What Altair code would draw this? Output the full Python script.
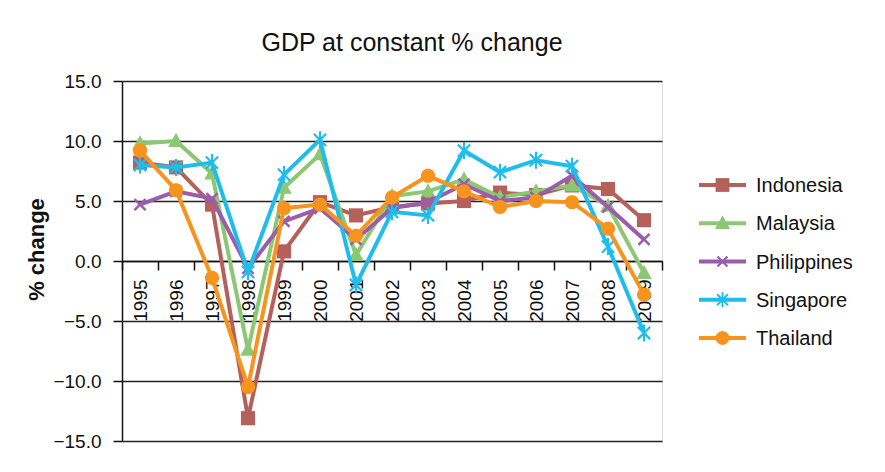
import math
import altair as alt
import pandas as pd

# ---------------- data ----------------
years = ["1995", "1996", "1997", "1998", "1999", "2000", "2001", "2002",
         "2003", "2004", "2005", "2006", "2007", "2008", "2009"]
countries = ["Indonesia", "Malaysia", "Philippines", "Singapore", "Thailand"]
indonesia = [8.2, 7.8, 4.7, -13.1, 0.8, 4.9, 3.8, 4.5, 4.8, 5.0, 5.7, 5.5, 6.3, 6.0, 3.4]
malaysia = [9.8, 10.0, 7.3, -7.4, 6.1, 8.9, 0.5, 5.4, 5.8, 6.8, 5.3, 5.8, 6.3, 4.6, -1.0]
philippines = [4.7, 5.8, 5.2, -0.6, 3.3, 4.4, 1.8, 4.4, 4.9, 6.4, 5.0, 5.3, 7.1, 4.5, 1.8]
singapore = [8.0, 7.8, 8.2, -0.9, 7.2, 10.1, -2.0, 4.1, 3.8, 9.2, 7.4, 8.4, 7.9, 1.2, -6.0]
thailand = [9.2, 5.9, -1.4, -10.5, 4.4, 4.7, 2.1, 5.3, 7.1, 5.8, 4.5, 5.0, 4.9, 2.7, -2.8]
y_ticks = [-15, -10, -5, 0, 5, 10, 15]

series = [indonesia, malaysia, philippines, singapore, thailand]
df = pd.DataFrame(
    [{"country": c, "year": y, "value": v}
     for c, vals in zip(countries, series) for y, v in zip(years, vals)]
)
legend_df = pd.DataFrame({"country": countries})

# ---------------- styles ----------------
colors = ["#B5605A", "#8CC873", "#9B5CAB", "#1FBDEB", "#F7941D"]
FONT = "Liberation Sans"


def poly(pts):
    area = sum(pts[i][0] * pts[(i + 1) % len(pts)][1] - pts[(i + 1) % len(pts)][0] * pts[i][1]
               for i in range(len(pts)))
    if area < 0:
        pts = pts[::-1]
    return "M" + "L".join(f"{x:.3f},{y:.3f}" for x, y in pts) + "Z"


def bar(x0, y0, x1, y1, w):
    dx, dy = x1 - x0, y1 - y0
    L = math.hypot(dx, dy)
    px, py = -dy / L * w, dx / L * w
    return poly([(x0 - px, y0 - py), (x1 - px, y1 - py), (x1 + px, y1 + py), (x0 + px, y0 + py)])


def square(r):
    return poly([(-r, -r), (r, -r), (r, r), (-r, r)])


def triangle(r):
    return poly([(0, -1.15 * r), (1.1 * r, 0.85 * r), (-1.1 * r, 0.85 * r)])


def circle(r):
    n = 32
    return poly([(r * math.cos(2 * math.pi * k / n), r * math.sin(2 * math.pi * k / n)) for k in range(n)])


def xmark(r, w):
    d = r * 0.72
    return bar(-d, -d, d, d, w) + bar(-d, d, d, -d, w)


def asterisk(r, w):
    d = r * 0.72
    return bar(0, -r, 0, r, w) + bar(-d, -d, d, d, w) + bar(-d, d, d, -d, w)


marker_paths = [square(1), triangle(1), xmark(1, 0.16), asterisk(1.1, 0.14), circle(1)]
marker_sizes = [200, 200, 240, 240, 200]

fill_scale = alt.Scale(domain=countries, range=colors)

x_enc = alt.X(
    "year:O", sort=years, title=None,
    scale=alt.Scale(type="band", domain=years, paddingInner=0, paddingOuter=0),
    axis=alt.Axis(
        orient="bottom", offset=-180, tickBand="extent", grid=False,
        labelAngle=-90, labelFontSize=19, labelFont=FONT, labelColor="#111",
        labelPadding=9, tickSize=9, tickColor="#111", tickWidth=1.5,
        domainColor="#111", domainWidth=1.5,
    ),
)
y_enc = alt.Y(
    "value:Q",
    scale=alt.Scale(domain=[-15, 15], nice=False, zero=False),
    axis=alt.Axis(
        values=y_ticks, format=".1f", title="% change",
        titleFont=FONT, titleFontSize=22, titleFontWeight="bold", titleColor="#111",
        titleAngle=270, titleX=-86, titleY=168, titleAlign="center", titleBaseline="middle",
        labelFont=FONT, labelFontSize=19, labelColor="#111", labelPadding=12,
        tickSize=9, tickColor="#111", tickWidth=1.5,
        domainColor="#111", domainWidth=1.5,
        grid=True, gridColor="#222", gridWidth=1.5,
    ),
)

base = alt.Chart(df)
main_layers = []
for i, c in enumerate(countries):
    sub = base.transform_filter(alt.datum.country == c)
    main_layers.append(
        sub.mark_line(strokeWidth=4).encode(
            x=x_enc, y=y_enc,
            stroke=alt.Stroke("country:N", scale=fill_scale, legend=None),
        )
    )
    main_layers.append(
        sub.mark_point(filled=True, opacity=1, strokeWidth=0,
                       shape=marker_paths[i], size=marker_sizes[i]).encode(
            x=x_enc, y=y_enc,
            fill=alt.Fill("country:N", scale=fill_scale, legend=None),
        )
    )
main = alt.layer(*main_layers)

# ---------------- legend (drawn from the country list) ----------------
leg_y = alt.Y("country:N", sort=countries, axis=None,
              scale=alt.Scale(type="point", domain=countries, range=[104, 257], padding=0))
lbase = alt.Chart(legend_df)
leg_line = lbase.mark_rule(strokeWidth=4).encode(
    x=alt.value(577), x2=alt.value(624), y=leg_y,
    stroke=alt.Stroke("country:N", scale=fill_scale, legend=None),
)
leg_mark = lbase.mark_point(filled=True, opacity=1, strokeWidth=0, size=190).encode(
    x=alt.value(600.5), y=leg_y,
    shape=alt.Shape("country:N", scale=alt.Scale(domain=countries, range=marker_paths), legend=None),
    fill=alt.Fill("country:N", scale=fill_scale, legend=None),
)
leg_text = lbase.mark_text(align="left", baseline="middle", font=FONT, fontSize=20,
                           color="#111", dy=1).encode(
    x=alt.value(634), y=leg_y, text="country:N",
)
legend = alt.layer(leg_line, leg_mark, leg_text)

chart = alt.layer(main, legend).resolve_scale(y="independent").properties(
    width=540, height=360,
    title=alt.TitleParams(
        "GDP at constant % change", font=FONT, fontSize=25, fontWeight="normal",
        color="#111", anchor="middle", frame="group", dx=20, offset=-4,
        baseline="alphabetic",
    ),
    autosize=alt.AutoSizeParams(type="none"),
    padding={"left": 114, "top": 73, "right": 215, "bottom": 23},
).configure_view(stroke=None).configure(background="white")

chart.save("out.html", embed_options={"renderer": "svg", "actions": False})
